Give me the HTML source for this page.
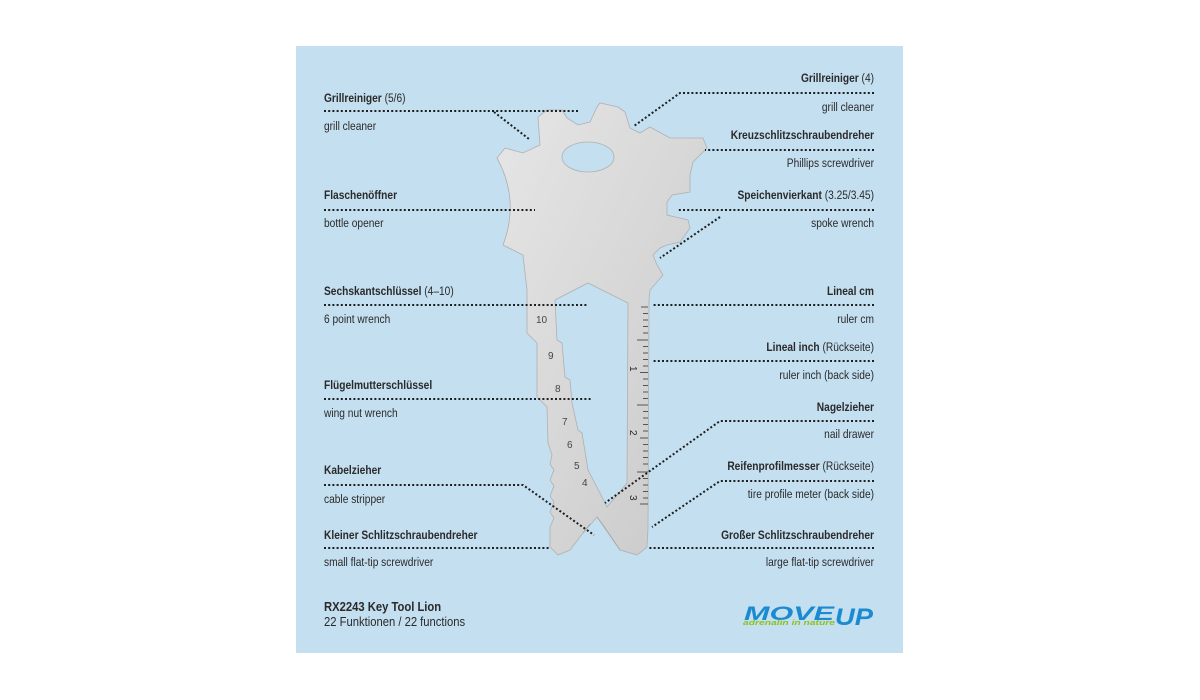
<!DOCTYPE html>
<html><head><meta charset="utf-8"><style>
html,body{margin:0;padding:0;background:#fff;}
svg{display:block;}
text{font-family:"Liberation Sans",sans-serif;font-size:12px;fill:#2a2a2a;}
.b{font-weight:bold;}
.r{text-anchor:end;}
.d{stroke:#1e1e1e;stroke-width:2;stroke-dasharray:2 2.2;fill:none;}
</style></head><body>
<svg width="1200" height="700" viewBox="0 0 1200 700" xmlns="http://www.w3.org/2000/svg">
<defs>
<linearGradient id="g" x1="0" y1="0" x2="1" y2="1">
<stop offset="0" stop-color="#e6e6e6"/><stop offset="1" stop-color="#c9c9c9"/>
</linearGradient>
</defs>
<rect x="296" y="46" width="607" height="607" fill="#c4dff0"/>

<!-- tool -->
<path fill="url(#g)" stroke="#b0b0b0" stroke-width="0.8" fill-rule="evenodd" d="
M497,158 L505,148 L523,153 L540,145 L538,117 L547,110 L562,110 L567,118 L578,125 L590,122 L597,107 L600,103 L618,107 L625,112 L630,128 L640,133 L650,127 L670,138 L703,138 L707,148 L693,162 L690,175 L690,192 L672,195 L667,202 L667,215 L688,220 L690,228 L680,242 L667,245 L660,248 L653,255 L657,265 L663,275 L650,290 L649,300 L648,528 L647,547 L637,555 L620,550 L597,517 L583,533 L570,550 L558,555 L550,547 L550,527 L554,518 L550,512 L554,502 L550,496 L554,486 L550,480 L554,470 L550,464 L552,455 L548,443 L547,407 L537,397 L537,343 L527,333 L527,290 L523,255 L503,245 Q520,200 497,158 Z
M588,283 L628,303 L627,483 L613,500 L607,507 L600,493 L588,470 L582,433 L578,430 L572,403 L570,380 L565,377 L562,343 L557,340 L555,300 Z
M562,157 a26,15 0 1,0 52,0 a26,15 0 1,0 -52,0 Z"/>
<path d="M597,517 L603,525 L620,550 M583,533 L590,524" stroke="#aaa" stroke-width="1" fill="none"/>
<!-- ruler ticks -->
<g stroke="#555" stroke-width="1">
<line x1="641" y1="307" x2="648" y2="307"/><line x1="643" y1="313.5" x2="648" y2="313.5"/><line x1="643" y1="320" x2="648" y2="320"/><line x1="643" y1="326.5" x2="648" y2="326.5"/><line x1="643" y1="333" x2="648" y2="333"/><line x1="637" y1="340" x2="648" y2="340"/><line x1="643" y1="346.5" x2="648" y2="346.5"/><line x1="643" y1="353" x2="648" y2="353"/><line x1="643" y1="359.5" x2="648" y2="359.5"/><line x1="643" y1="366" x2="648" y2="366"/><line x1="640" y1="372.5" x2="648" y2="372.5"/><line x1="643" y1="379" x2="648" y2="379"/><line x1="643" y1="385.5" x2="648" y2="385.5"/><line x1="643" y1="392" x2="648" y2="392"/><line x1="643" y1="398.5" x2="648" y2="398.5"/><line x1="637" y1="405" x2="648" y2="405"/><line x1="643" y1="411.5" x2="648" y2="411.5"/><line x1="643" y1="418" x2="648" y2="418"/><line x1="643" y1="424.5" x2="648" y2="424.5"/><line x1="643" y1="431" x2="648" y2="431"/><line x1="640" y1="438" x2="648" y2="438"/><line x1="643" y1="444.5" x2="648" y2="444.5"/><line x1="643" y1="451" x2="648" y2="451"/><line x1="643" y1="457.5" x2="648" y2="457.5"/><line x1="643" y1="464" x2="648" y2="464"/><line x1="637" y1="472" x2="648" y2="472"/><line x1="643" y1="478.5" x2="648" y2="478.5"/><line x1="643" y1="485" x2="648" y2="485"/><line x1="643" y1="491.5" x2="648" y2="491.5"/><line x1="643" y1="498" x2="648" y2="498"/><line x1="640" y1="504" x2="648" y2="504"/>
</g>
<text transform="translate(630,366) rotate(90)" style="font-size:10px">1</text>
<text transform="translate(630,430) rotate(90)" style="font-size:10px">2</text>
<text transform="translate(630,495) rotate(90)" style="font-size:10px">3</text>
<text x="536" y="323" style="font-size:10px;fill:#444">10</text>
<text x="548" y="359" style="font-size:10px;fill:#444">9</text>
<text x="555" y="392" style="font-size:10px;fill:#444">8</text>
<text x="562" y="425" style="font-size:10px;fill:#444">7</text>
<text x="567" y="448" style="font-size:10px;fill:#444">6</text>
<text x="574" y="469" style="font-size:10px;fill:#444">5</text>
<text x="582" y="486" style="font-size:10px;fill:#444">4</text>

<!-- dotted leaders -->
<path class="d" d="M324,111 H578 M494,112 L529,139"/>
<path class="d" d="M324,210 H535"/>
<path class="d" d="M324,305 H587"/>
<path class="d" d="M324,399 H592"/>
<path class="d" d="M324,485 H523 L594,535"/>
<path class="d" d="M324,548 H550"/>
<path class="d" d="M874,93 H680 L634,126"/>
<path class="d" d="M874,150 H705"/>
<path class="d" d="M874,210 H678 M720,217 L660,258"/>
<path class="d" d="M874,305 H652"/>
<path class="d" d="M874,361 H652"/>
<path class="d" d="M874,421 H720 L605,503"/>
<path class="d" d="M874,481 H720 L652,527"/>
<path class="d" d="M874,548 H648"/>

<!-- left labels -->
<g transform="translate(324,0) scale(0.85,1)">
<text x="0" y="102"><tspan class="b">Grillreiniger</tspan> (5/6)</text>
<text x="0" y="130">grill cleaner</text>
<text x="0" y="199" class="b">Flaschenöffner</text>
<text x="0" y="227">bottle opener</text>
<text x="0" y="295"><tspan class="b">Sechskantschlüssel</tspan> (4–10)</text>
<text x="0" y="323">6 point wrench</text>
<text x="0" y="389" class="b">Flügelmutterschlüssel</text>
<text x="0" y="417">wing nut wrench</text>
<text x="0" y="474" class="b">Kabelzieher</text>
<text x="0" y="503">cable stripper</text>
<text x="0" y="539" class="b">Kleiner Schlitzschraubendreher</text>
<text x="0" y="566">small flat-tip screwdriver</text>
</g>

<!-- right labels -->
<g transform="translate(874,0) scale(0.85,1)">
<text x="0" y="82" class="r"><tspan class="b">Grillreiniger</tspan> (4)</text>
<text x="0" y="111" class="r">grill cleaner</text>
<text x="0" y="139" class="r b">Kreuzschlitzschraubendreher</text>
<text x="0" y="167" class="r">Phillips screwdriver</text>
<text x="0" y="199" class="r"><tspan class="b">Speichenvierkant</tspan> (3.25/3.45)</text>
<text x="0" y="227" class="r">spoke wrench</text>
<text x="0" y="295" class="r b">Lineal cm</text>
<text x="0" y="323" class="r">ruler cm</text>
<text x="0" y="351" class="r"><tspan class="b">Lineal inch</tspan> (Rückseite)</text>
<text x="0" y="379" class="r">ruler inch (back side)</text>
<text x="0" y="411" class="r b">Nagelzieher</text>
<text x="0" y="438" class="r">nail drawer</text>
<text x="0" y="470" class="r"><tspan class="b">Reifenprofilmesser</tspan> (Rückseite)</text>
<text x="0" y="498" class="r">tire profile meter (back side)</text>
<text x="0" y="539" class="r b">Großer Schlitzschraubendreher</text>
<text x="0" y="566" class="r">large flat-tip screwdriver</text>
</g>

<!-- footer -->
<g transform="translate(324,0) scale(0.9,1)">
<text x="0" y="611" class="b" style="font-size:12.5px">RX2243 Key Tool Lion</text>
<text x="0" y="626" style="font-size:12.5px">22 Funktionen / 22 functions</text>
</g>

<!-- logo -->
<text x="744" y="620" textLength="90" lengthAdjust="spacingAndGlyphs" style="font-size:19px;fill:#1a8bd0;font-style:italic;font-weight:bold">MOVE</text>
<text x="835" y="625" textLength="38" lengthAdjust="spacingAndGlyphs" style="font-size:24px;fill:#1a8bd0;font-style:italic;font-weight:bold">UP</text>
<text x="743" y="625" textLength="92" lengthAdjust="spacingAndGlyphs" style="font-size:7.5px;fill:#8cc21e;font-style:italic;font-weight:bold">adrenalin in nature</text>
</svg>
</body></html>
